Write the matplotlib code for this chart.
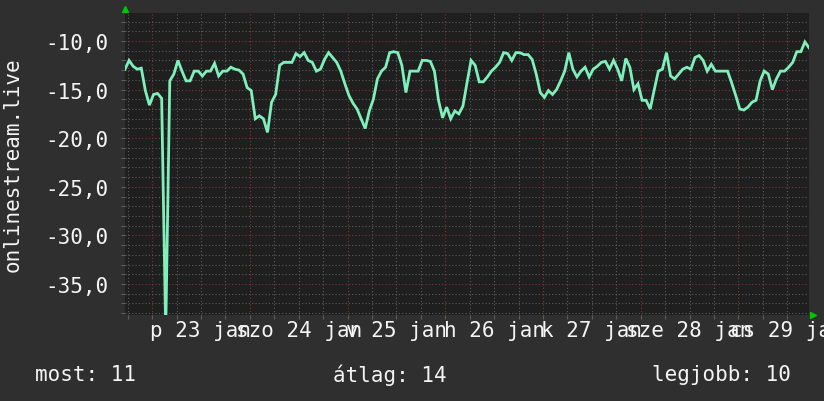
import numpy as np
import matplotlib
matplotlib.use("Agg")
import matplotlib.pyplot as plt
from matplotlib.ticker import MultipleLocator, FixedLocator
import matplotlib.transforms as mtransforms

# || Data: hourly values, starting jan 22 17:20
start_offset_h = 6 + 40 / 60  # hours from first sample to midnight jan 23
values = [
    -12.9, -12.0, -12.6, -12.9, -12.8, -15.1, -16.6, -15.5, -15.4, -15.9,
    -40.0, -14.1, -13.4, -12.0, -13.1, -14.1, -14.1, -13.1, -13.1, -13.6,
    -13.1, -13.1, -12.3, -13.6, -13.1, -13.1, -12.7, -12.9, -13.0, -13.4,
    -14.8, -15.1, -18.0, -17.7, -18.0, -19.4, -16.3, -15.5, -12.5, -12.2,
    -12.2, -12.2, -11.3, -11.6, -11.2, -12.0, -12.2, -13.1, -12.9, -11.9,
    -11.2, -11.7, -12.2, -13.1, -14.4, -15.6, -16.4, -17.0, -18.0, -19.0,
    -17.2, -16.0, -13.9, -13.1, -12.7, -11.2, -11.1, -11.2, -12.5, -15.3,
    -13.1, -13.1, -13.1, -12.0, -12.0, -12.1, -13.1, -16.1, -17.9, -16.8,
    -18.0, -17.2, -17.5, -16.7, -14.3, -12.0, -12.5, -14.2, -14.2, -13.7,
    -13.1, -12.7, -12.2, -11.2, -11.3, -12.0, -11.2, -11.2, -11.4, -11.4,
    -11.9, -13.4, -15.3, -15.8, -15.1, -15.5, -15.0, -14.1, -13.1, -11.2,
    -12.9, -13.7, -13.1, -12.7, -13.7, -12.9, -12.6, -12.2, -12.1, -12.9,
    -12.0, -12.9, -14.1, -11.8, -12.7, -15.0, -14.4, -16.1, -16.1, -17.0,
    -15.0, -13.1, -12.9, -11.2, -13.6, -13.9, -13.4, -12.9, -12.7, -12.9,
    -11.7, -11.5, -12.0, -13.1, -12.4, -13.1, -13.1, -13.1, -13.1, -14.3,
    -15.6, -17.0, -17.1, -16.8, -16.3, -16.1, -14.1, -13.1, -13.4, -15.0,
    -13.9, -13.1, -13.1, -12.7, -12.2, -11.1, -11.1, -10.1, -10.7,
]
day_labels = ["p 23 jan", "szo 24 jan", "v 25 jan", "h 26 jan",
              "k 27 jan", "sze 28 jan", "cs 29 jan"]
y_ticks = [-35, -30, -25, -20, -15, -10]
series_name = "onlinestream.live"
legend_items = ["most: 11", "átlag: 14", "legjobb: 10"]

# || Colours
BG = "#2f2f2f"
PLOT_BG = "#1f1f1f"
LINE = "#7ff0bb"
GRID_MINOR = "#5c5c5c"
GRID_MAJOR = "#843434"
TEXT = "#f4f4f4"
FONT = "DejaVu Sans Mono"
FS = 15

hours = np.arange(len(values))

fig = plt.figure(figsize=(8.24, 4.02), dpi=100, facecolor=BG)
ax = fig.add_axes([125 / 824, 86 / 402, 684 / 824, 302 / 402], facecolor=PLOT_BG)

ax.plot(hours, values, color=LINE, lw=2.0, solid_joinstyle="miter")
ax.set_xlim(0, 168)
ax.set_ylim(-38.19, -7.12)

# || Grid: minor every 1 / 6h, major every 5 / midnight
midnights = start_offset_h + 24 * np.arange(7)
ax.xaxis.set_major_locator(FixedLocator(midnights))
ax.xaxis.set_minor_locator(FixedLocator(start_offset_h - 6 + 6 * np.arange(29)))
ax.yaxis.set_major_locator(FixedLocator(y_ticks))
ax.yaxis.set_minor_locator(MultipleLocator(1))
ax.grid(which="minor", color=GRID_MINOR, lw=0.8, linestyle=(0, (1, 2)))
ax.grid(which="major", color=GRID_MAJOR, lw=0.8, linestyle=(0, (1, 2)))
ax.set_axisbelow(True)

ax.set_xticklabels([])
ax.set_yticklabels([f"{v:.1f}".replace(".", ",") for v in y_ticks],
                   fontfamily=FONT, fontsize=FS, color=TEXT)
ax.tick_params(axis="both", which="both", color="#5c5c5c", length=3, width=0.8)
ax.tick_params(axis="y", which="major", pad=9)
for s in ax.spines.values():
    s.set_visible(False)

# day labels centred at noon
trans = mtransforms.blended_transform_factory(ax.transData, ax.transAxes)
for i, lab in enumerate(day_labels):
    ax.text(midnights[i] + 12, -0.05, lab, transform=trans, ha="center",
            va="center", fontfamily=FONT, fontsize=FS, color=TEXT, clip_on=False)

# green axis arrows
ax.plot([0], [1.012], marker="^", color="#00c800", ms=4, transform=ax.transAxes, clip_on=False)
ax.plot([1.006], [0], marker=">", color="#00c800", ms=4, transform=ax.transAxes, clip_on=False)

fig.text(13 / 824, (86 + 151) / 402, series_name, rotation=90, ha="center", va="center",
         fontfamily=FONT, fontsize=FS, color=TEXT)

for x, txt in zip([35, 333, 652], legend_items):
    fig.text(x / 824, 1 - 375 / 402, txt, ha="left", va="center",
             fontfamily=FONT, fontsize=FS, color=TEXT)

fig.savefig("out.png", dpi=100, facecolor=BG)
